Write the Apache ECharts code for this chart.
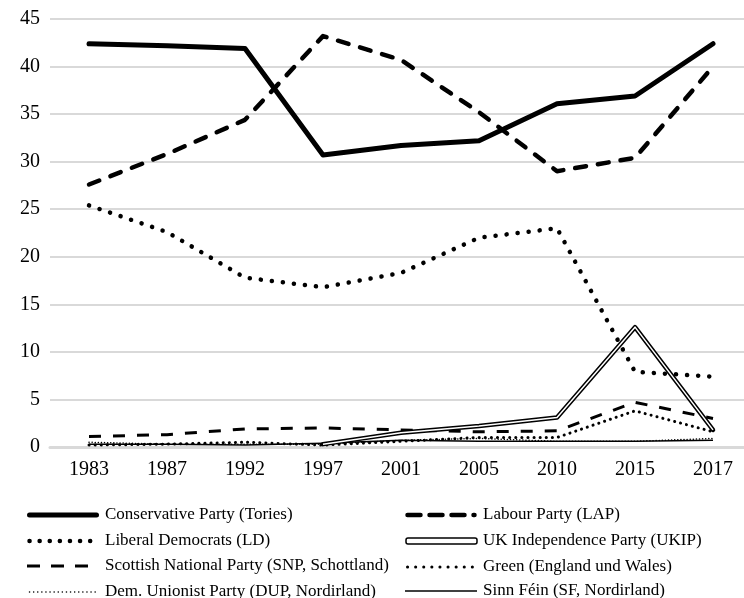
<!DOCTYPE html>
<html><head><meta charset="utf-8">
<script src="https://cdn.jsdelivr.net/npm/echarts@6/dist/echarts.min.js"></script>
<style>html,body{margin:0;padding:0;background:#fff}#c{width:744px;height:598px}</style>
</head><body><div id="c"></div>
<script>
const years = ['1983','1987','1992','1997','2001','2005','2010','2015','2017'];
const yTicks = [0,5,10,15,20,25,30,35,40,45];
const conservative = [42.4, 42.2, 41.9, 30.7, 31.7, 32.2, 36.1, 36.9, 42.4];
const labour = [27.6, 30.8, 34.4, 43.2, 40.7, 35.2, 29.0, 30.4, 40.0];
const libdem = [25.4, 22.6, 17.8, 16.8, 18.3, 22.0, 23.0, 7.9, 7.4];
const ukip = [null, null, null, 0.3, 1.5, 2.2, 3.1, 12.6, 1.8];
const snp = [1.1, 1.3, 1.9, 2.0, 1.8, 1.6, 1.7, 4.7, 3.0];
const green = [0.2, 0.3, 0.5, 0.2, 0.6, 1.0, 1.0, 3.8, 1.6];
const dup = [0.5, 0.3, 0.3, 0.3, 0.7, 0.9, 0.6, 0.6, 0.9];
const sinnfein = [0.3, 0.3, 0.2, 0.4, 0.7, 0.6, 0.6, 0.6, 0.7];

const names = {
  con: 'Conservative Party (Tories)', lab: 'Labour Party (LAP)',
  ld: 'Liberal Democrats (LD)', ukip: 'UK Independence Party (UKIP)',
  snp: 'Scottish National Party (SNP, Schottland)', green: 'Green (England und Wales)',
  dup: 'Dem. Unionist Party (DUP, Nordirland)', sf: 'Sinn Féin (SF, Nordirland)'
};
const FONT = 'Liberation Serif';
const styles = {
  con:   {width:5, cap:'round'},
  lab:   {width:4.5, cap:'round', dash:[11,12], ldash:[13,9]},
  ld:    {width:4.5, cap:'round', dash:[0.1,11], ldash:[0.1,10]},
  ukip:  {width:4.5, cap:'round'},
  snp:   {width:3, cap:'butt', dash:[12,12], ldash:[13,11]},
  green: {width:3, cap:'round', dash:[0.1,6], ldash:[0.1,8]},
  dup:   {width:1.5, cap:'round', dash:[0.1,3], ldash:[0.1,4]},
  sf:    {width:1.5, cap:'butt'}
};
function line(key, data, z) {
  const s = styles[key];
  return {name:names[key], type:'line', data, symbol:'none', z: z||2,
    lineStyle:{color:'#000', width:s.width, cap:s.cap, join:'round', type: s.dash || 'solid'}};
}
// legend drawn as graphic elements
const legendLayout = [
  ['con', 27, 515], ['lab', 405, 515],
  ['ld', 27, 541], ['ukip', 405, 541],
  ['snp', 27, 566], ['green', 405, 567],
  ['dup', 27, 592], ['sf', 405, 591]
];
const graphics = [];
legendLayout.forEach(([k, x, y]) => {
  const s = styles[k];
  if (k === 'ukip') {
    graphics.push({type:'rect', shape:{x:x+1, y:y-3, width:71, height:6, r:2},
      style:{fill:'#fff', stroke:'#000', lineWidth:1.5}});
  } else {
    const off = s.cap === 'round' ? 2.5 : 0;
    graphics.push({type:'line', shape:{x1:x + off, y1:y, x2:x+72-off, y2:y},
      style:{stroke:'#000', lineWidth:s.width, lineCap:s.cap, lineDash:s.ldash || null}});
  }
  graphics.push({type:'text', x:x+78, y:y, style:{text:names[k], fill:'#000',
    font:'17px "' + FONT + '"', textVerticalAlign:'middle', verticalAlign:'middle'}});
});

const chart = echarts.init(document.getElementById('c'));
chart.setOption({
  animation:false,
  grid:{left:50, right:-8, top:19, bottom:151, outerBoundsMode:'none', containLabel:false},
  xAxis:{type:'category', data:years, boundaryGap:true,
    axisLine:{lineStyle:{color:'#d9d9d9', width:3}}, axisTick:{show:false},
    axisLabel:{fontFamily:FONT, fontSize:20, color:'#000', margin:13}},
  yAxis:{type:'value', min:yTicks[0], max:yTicks[yTicks.length-1], interval:5,
    axisLine:{show:false}, axisTick:{show:false},
    axisLabel:{fontFamily:FONT, fontSize:20, color:'#000', margin:10},
    splitLine:{lineStyle:{color:'#d9d9d9', width:2}}},
  graphic: graphics,
  series:[
    line('sf', sinnfein),
    line('dup', dup),
    line('green', green),
    line('snp', snp),
    line('ukip', ukip, 3),
    {name:'ukip_inner', type:'line', data:ukip, symbol:'none', z:4, silent:true,
     lineStyle:{color:'#fff', width:1.5, join:'round'}},
    line('ld', libdem),
    line('lab', labour),
    line('con', conservative)
  ]
});
</script></body></html>
